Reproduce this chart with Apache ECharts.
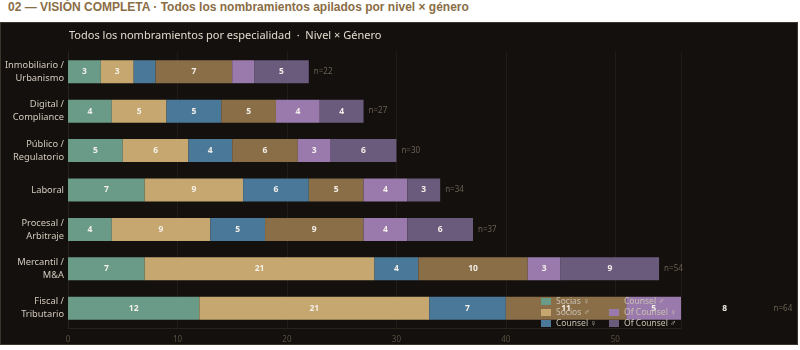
<!DOCTYPE html>
<html>
<head>
<meta charset="utf-8">
<script src="https://cdn.jsdelivr.net/npm/echarts@6/dist/echarts.min.js"></script>
<style>
  body { margin: 0; background: #ffffff; }
  #hdr { height: 22px; line-height: 19px; padding-left: 8px; font: bold 12px 'Liberation Sans', Arial, sans-serif; color: #8a6d45; }
  #chart { width: 796px; height: 321px; background: #13100d; border: 1px solid #3b352e; }
</style>
</head>
<body>
<div id="hdr">02 — VISIÓN COMPLETA · Todos los nombramientos apilados por nivel × género</div>
<div id="chart"></div>
<script>
// especialidades (de abajo a arriba)
var categorias = ['Fiscal /\nTributario', 'Mercantil /\nM&A', 'Procesal /\nArbitraje', 'Laboral', 'Público /\nRegulatorio', 'Digital /\nCompliance', 'Inmobiliario /\nUrbanismo'];
var niveles = ['Socias ♀', 'Socios ♂', 'Counsel ♀', 'Counsel ♂', 'Of Counsel ♀', 'Of Counsel ♂'];
var sociasF     = [12, 7, 4, 7, 5, 4, 3];
var sociosM     = [21, 21, 9, 9, 6, 5, 3];
var counselF    = [7, 4, 5, 6, 4, 5, 2];
var counselM    = [11, 10, 9, 5, 6, 5, 7];
var ofCounselF  = [5, 3, 4, 4, 3, 4, 2];
var ofCounselM  = [8, 9, 6, 3, 6, 4, 5];
var ticksX = [0, 10, 20, 30, 40, 50];
var colores = ['#6a9b88', '#c5a76f', '#4a7898', '#8a6e48', '#9a7aad', '#6a5a7c'];
var maxX = 56;

var valores = [sociasF, sociosM, counselF, counselM, ofCounselF, ofCounselM];
var totales = categorias.map(function (c, i) {
  var s = 0;
  valores.forEach(function (v) { s += v[i]; });
  return s;
});

var chart = echarts.init(document.getElementById('chart'));

// acumulado: el tramo que queda fuera del eje no se pinta, pero su etiqueta sí
var acum = categorias.map(function () { return 0; });
var series = niveles.map(function (n, k) {
  var data = valores[k].map(function (v, i) {
    var ini = acum[i];
    acum[i] += v;
    if (ini >= maxX) return { value: v, itemStyle: { color: 'rgba(0,0,0,0)' } };
    return v;
  });
  return {
    name: n,
    type: 'bar',
    stack: 'total',
    barWidth: 23,
    clip: false,
    data: data,
    itemStyle: { color: colores[k] },
    label: {
      show: true,
      position: 'inside',
      color: '#f3efe8',
      fontSize: 8.5,
      fontWeight: 'bold',
      fontFamily: 'Noto Sans',
      formatter: function (p) { return p.value >= 3 ? p.value : ''; }
    }
  };
});
series.push({
  name: 'n',
  type: 'bar',
  stack: 'total',
  barWidth: 23,
  clip: false,
  data: totales.map(function () { return 0; }),
  itemStyle: { color: 'transparent' },
  label: {
    show: true,
    position: 'right',
    distance: 5,
    color: '#6b6152',
    fontSize: 8,
    fontFamily: 'Noto Sans',
    formatter: function (p) { return 'n=' + totales[p.dataIndex]; }
  }
});

chart.setOption({
  backgroundColor: '#13100d',
  animation: false,
  title: {
    text: 'Todos los nombramientos por especialidad  ·  Nivel × Género',
    left: 63,
    top: 2,
    textStyle: { color: '#e2dacd', fontSize: 11, fontWeight: 'normal', fontFamily: 'Noto Sans' }
  },
  legend: {
    data: niveles,
    orient: 'vertical',
    left: 535,
    top: 268,
    height: 34,
    icon: 'rect',
    itemWidth: 10,
    itemHeight: 7,
    itemGap: 0,
    textStyle: { color: '#c9c0b1', fontSize: 8.5, lineHeight: 11, width: 53, fontFamily: 'Noto Sans' }
  },
  grid: { left: 67, right: 116, top: 29, bottom: 16, outerBoundsMode: 'none' },
  xAxis: {
    type: 'value',
    min: 0,
    max: maxX,
    interval: 10,
    axisLine: { show: true, lineStyle: { color: '#29231e' } },
    axisTick: { show: false },
    splitLine: { lineStyle: { color: '#211c18' } },
    axisLabel: {
      color: '#5a5042', fontSize: 8, fontFamily: 'Noto Sans', showMaxLabel: false,
      formatter: function (v) { return ticksX.indexOf(v) >= 0 ? v : ''; }
    }
  },
  yAxis: {
    type: 'category',
    data: categorias,
    axisLine: { show: true, lineStyle: { color: '#29231e' } },
    axisTick: { show: false },
    axisLabel: { color: '#d3cabd', fontSize: 9.3, fontFamily: 'Noto Sans', lineHeight: 13, margin: 4 }
  },
  series: series
});
</script>
</body>
</html>
